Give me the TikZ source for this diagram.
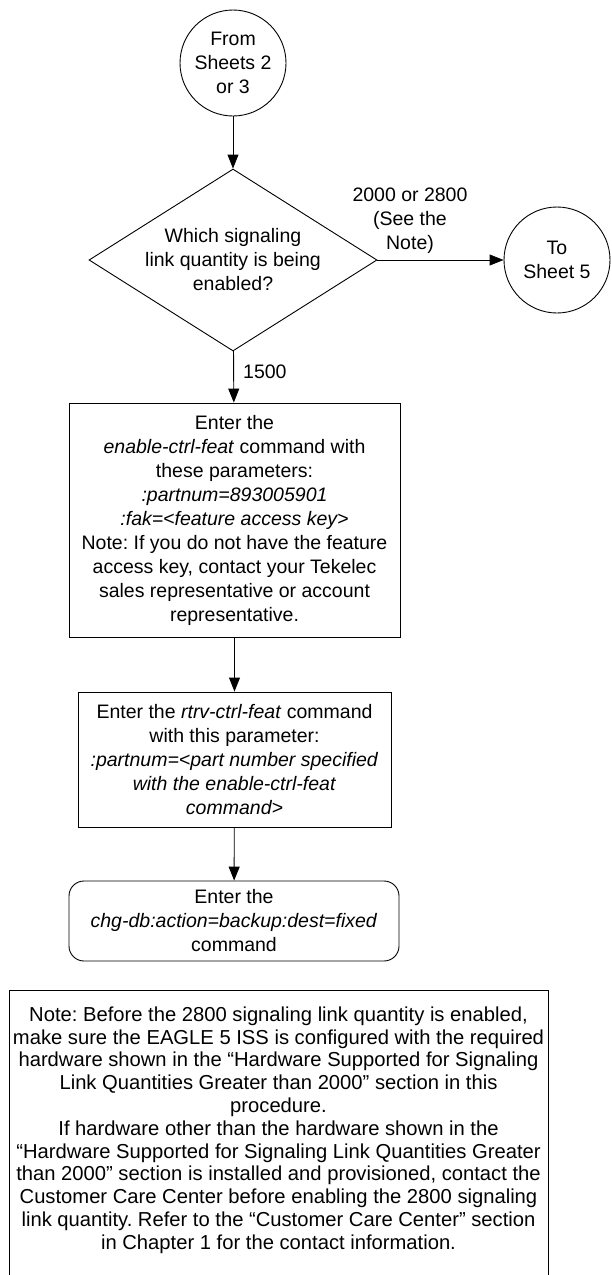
\documentclass[tikz,border=0pt]{standalone}
\usepackage{fontspec}
\setmainfont{Liberation Sans}
\usetikzlibrary{shapes.geometric,arrows.meta}
\frenchspacing
\begin{document}
\begin{tikzpicture}[x=1pt,y=-1pt,
  every node/.style={font=\fontsize{19.5}{24}\selectfont, align=center, inner sep=0pt},
  conn/.style={draw, line width=0.9pt, -{Triangle[length=14pt,width=11pt]}},
  shapebox/.style={draw, line width=0.9pt},
  circ/.style={shapebox, circle, minimum size=106pt},
]
\useasboundingbox (0,0) rectangle (611,1275);
\clip (0,0) rectangle (611,1275);

\node[circ] (from) at (233,63) {From\\Sheets 2\\or 3};
\node[shapebox, diamond, aspect=1.58, minimum width=288pt, minimum height=182pt] (dec) at (233,260) {Which signaling\\link quantity is being\\enabled?};
\node[circ] (to) at (557,260) {To\\Sheet 5};

\node[shapebox, rectangle, minimum width=331pt, minimum height=234pt] (box1) at (234.5,520)
 {Enter the\\\textit{enable-ctrl-feat} command with\\these parameters:\\\textit{:partnum=893005901}\\\textit{:fak=<feature access key>}\\Note: If you do not have the feature\\access key, contact your Tekelec\\sales representative or account\\representative.};

\node[shapebox, rectangle, minimum width=313pt, minimum height=135pt] (box2) at (234.5,759.5)
 {Enter the \textit{rtrv-ctrl-feat} command\\with this parameter:\\\textit{:partnum=<part number specified}\\\textit{with the enable-ctrl-feat}\\\textit{command>}};

\node[shapebox, rectangle, rounded corners=15pt, minimum width=330pt, minimum height=80pt] (rbox) at (234,921)
 {Enter the\\\textit{chg-db:action=backup:dest=fixed}\\command};

\node[shapebox, rectangle, minimum width=539pt, minimum height=320pt, anchor=north] (notebox) at (278.5,990) {};
\node[font=\fontsize{20.2}{22.8}\selectfont] (note) at (278.5,1130)
 {Note: Before the 2800 signaling link quantity is enabled,\\make sure the EAGLE 5 ISS is configured with the required\\hardware shown in the “Hardware Supported for Signaling\\Link Quantities Greater than 2000” section in this\\procedure.\\If hardware other than the hardware shown in the\\“Hardware Supported for Signaling Link Quantities Greater\\than 2000” section is installed and provisioned, contact the\\Customer Care Center before enabling the 2800 signaling\\link quantity. Refer to the “Customer Care Center” section\\in Chapter 1 for the contact information.};

\draw[conn] (from) -- (dec);
\draw[conn] (dec) -- (to);
\draw[conn] (dec) -- (box1);
\draw[conn] (box1) -- (box2);
\draw[conn] (box2) -- (rbox);

\node (lab1) at (410,221) {2000 or 2800\\(See the\\Note)};
\node[anchor=west] (lab2) at (243,372) {1500};
\end{tikzpicture}
\end{document}
